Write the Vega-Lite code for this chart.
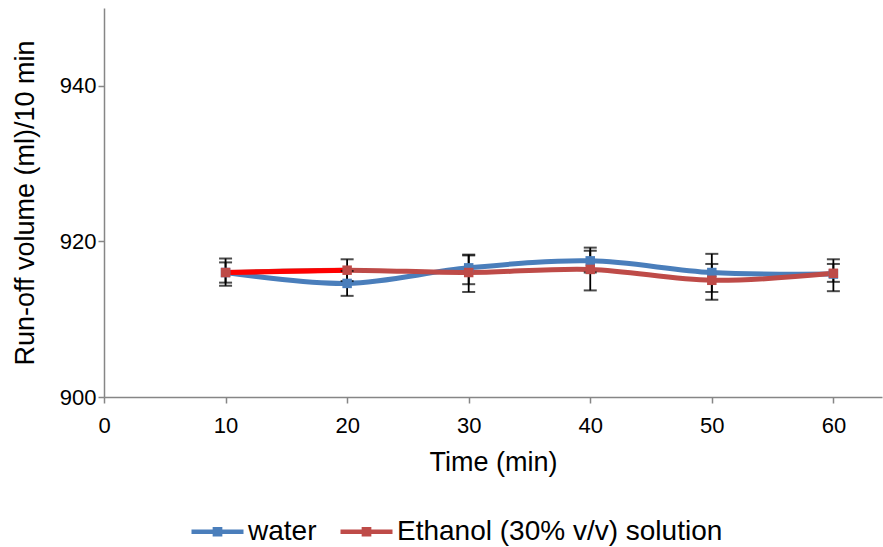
{
  "$schema": "https://vega.github.io/schema/vega-lite/v6.json",
  "width": 778,
  "height": 389,
  "autosize": {"type": "none"},
  "padding": {"left": 104, "top": 8, "right": 1, "bottom": 150},
  "background": "white",
  "config": {
    "view": {"stroke": null},
    "font": "Liberation Sans",
    "axis": {"grid": false, "domainColor": "#868686", "tickColor": "#868686", "domainWidth": 1.5, "tickWidth": 1.5, "labelColor": "#000", "titleColor": "#000", "titleFontWeight": "normal", "labelFont": "Liberation Sans", "titleFont": "Liberation Sans"}
  },
  "datasets": {
    "pts": [
      {"series": "water", "time": 10, "value": 916.0, "lo": 914.3, "hi": 917.8},
      {"series": "water", "time": 20, "value": 914.6, "lo": 913.0, "hi": 916.2},
      {"series": "water", "time": 30, "value": 916.6, "lo": 914.5, "hi": 918.3},
      {"series": "water", "time": 40, "value": 917.5, "lo": 916.0, "hi": 919.2},
      {"series": "water", "time": 50, "value": 916.0, "lo": 913.5, "hi": 918.4},
      {"series": "water", "time": 60, "value": 915.8, "lo": 913.6, "hi": 917.7},
      {"series": "Ethanol (30% v/v) solution", "time": 10, "value": 916.0, "lo": 914.7, "hi": 917.3},
      {"series": "Ethanol (30% v/v) solution", "time": 20, "value": 916.3, "lo": 914.9, "hi": 917.7},
      {"series": "Ethanol (30% v/v) solution", "time": 30, "value": 916.0, "lo": 913.5, "hi": 918.2},
      {"series": "Ethanol (30% v/v) solution", "time": 40, "value": 916.4, "lo": 913.7, "hi": 918.8},
      {"series": "Ethanol (30% v/v) solution", "time": 50, "value": 915.0, "lo": 912.5, "hi": 917.1},
      {"series": "Ethanol (30% v/v) solution", "time": 60, "value": 915.9, "lo": 914.8, "hi": 917.1}
    ],
    "seg": [
      {"time": 10, "value": 916.0},
      {"time": 20, "value": 916.3}
    ]
  },
  "encoding": {
    "x": {"field": "time", "type": "quantitative", "scale": {"domain": [0, 64], "nice": false},
      "axis": {"values": [0, 10, 20, 30, 40, 50, 60], "title": "Time (min)", "labelFontSize": 22, "labelFlush": false, "titleFontSize": 27, "tickSize": 6, "labelPadding": 12, "titlePadding": 13}},
    "y": {"field": "value", "type": "quantitative", "scale": {"domain": [900, 950], "nice": false, "zero": false},
      "axis": {"values": [900, 920, 940], "title": "Run-off volume (ml)/10 min", "labelFontSize": 22, "titleFontSize": 27, "tickSize": 6, "labelPadding": 2, "titlePadding": 20}}
  },
  "layer": [
    {
      "data": {"name": "pts"},
      "transform": [{"filter": "datum.series === 'water'"}],
      "mark": {"type": "line", "interpolate": "catmull-rom", "strokeWidth": 5},
      "encoding": {
        "color": {"field": "series", "type": "nominal",
          "scale": {"domain": ["water", "Ethanol (30% v/v) solution"], "range": ["#4A7EBB", "#BE4B48"]},
          "legend": {"orient": "none", "direction": "horizontal", "legendX": 85, "legendY": 495, "title": null,
            "labelFontSize": 28, "labelColor": "#000", "labelFont": "Liberation Sans", "labelLimit": 500,
            "symbolType": "M-1,0H1M-0.1,-0.1H0.1V0.1H-0.1Z", "symbolSize": 2704, "symbolStrokeWidth": 4.5,
            "labelOffset": 2, "columnPadding": 14,
            "encode": {"symbols": {"update": {"fill": {"scale": "color", "field": "value"}}}}}
        }
      }
    },
    {
      "data": {"name": "pts"},
      "transform": [{"filter": "datum.series !== 'water'"}],
      "mark": {"type": "line", "interpolate": "catmull-rom", "strokeWidth": 5},
      "encoding": {"color": {"field": "series", "type": "nominal"}}
    },
    {
      "data": {"name": "seg"},
      "mark": {"type": "line", "strokeWidth": 5, "color": "#FF0000"},
      "encoding": {}
    },
    {
      "data": {"name": "pts"},
      "mark": {"type": "rule", "color": "#000", "strokeWidth": 1.8},
      "encoding": {"y": {"field": "lo", "type": "quantitative"}, "y2": {"field": "hi"}}
    },
    {
      "data": {"name": "pts"},
      "mark": {"type": "tick", "color": "#000", "orient": "horizontal", "size": 13, "thickness": 2},
      "encoding": {"y": {"field": "lo", "type": "quantitative"}}
    },
    {
      "data": {"name": "pts"},
      "mark": {"type": "tick", "color": "#000", "orient": "horizontal", "size": 13, "thickness": 2},
      "encoding": {"y": {"field": "hi", "type": "quantitative"}}
    },
    {
      "data": {"name": "pts"},
      "mark": {"type": "point", "shape": "square", "filled": true, "size": 90, "opacity": 1},
      "encoding": {"color": {"field": "series", "type": "nominal", "scale": {"range": ["#4F81BD", "#C0504D"]}}}
    }
  ]
}
